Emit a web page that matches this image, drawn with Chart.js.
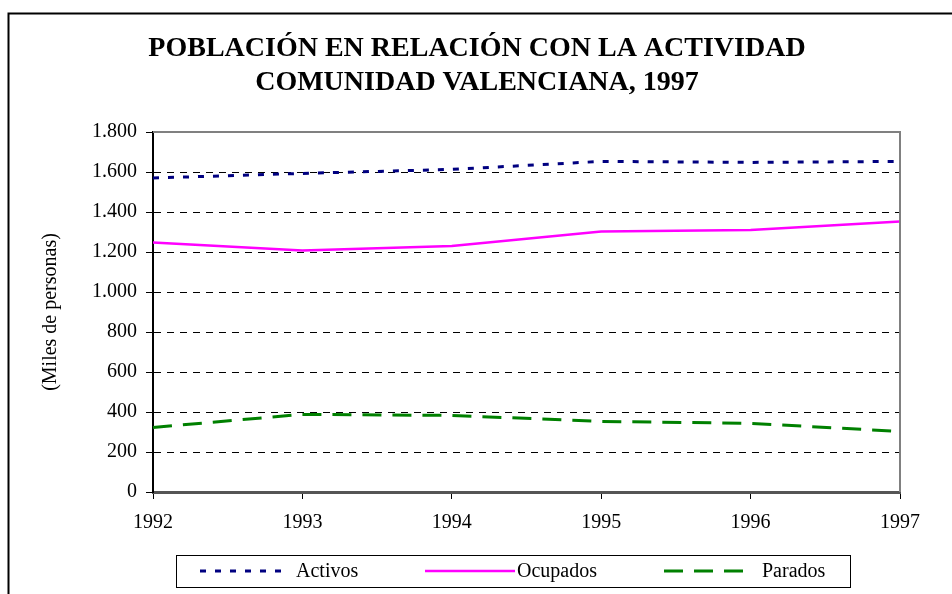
<!DOCTYPE html>
<html>
<head>
<meta charset="utf-8">
<script src="https://cdn.jsdelivr.net/npm/chart.js@4.4.0/dist/chart.umd.min.js"></script>
<style>
  body { margin: 0; background: #fff; }
  #wrap { width: 952px; height: 594px; }
</style>
</head>
<body>
<div id="wrap"><canvas id="lineChart" width="952" height="594"></canvas></div>
<script>
var years = ['1992', '1993', '1994', '1995', '1996', '1997'];
var activos = [1570, 1593, 1613, 1653, 1648, 1653];
var ocupados = [1248, 1207, 1230, 1302, 1310, 1352];
var parados = [323, 388, 383, 353, 343, 303];
var yTicks = [0, 200, 400, 600, 800, 1000, 1200, 1400, 1600, 1800];
var titleLines = ['POBLACIÓN EN RELACIÓN CON LA ACTIVIDAD', 'COMUNIDAD VALENCIANA, 1997'];

var SERIF = "'Liberation Serif', 'Times New Roman', serif";

function miles(v) {
    return String(v).replace(/\B(?=(\d{3})+(?!\d))/g, '.');
}

// outer frame, title, plot border on top/right, and the boxed legend
var framePlugin = {
    id: 'frame',
    beforeDraw: function(chart) {
        var ctx = chart.ctx;
        ctx.save();
        ctx.strokeStyle = '#000';
        ctx.lineWidth = 2;
        ctx.beginPath();
        ctx.moveTo(8.5, 594);
        ctx.lineTo(8.5, 13.5);
        ctx.lineTo(952, 13.5);
        ctx.stroke();

        ctx.fillStyle = '#000';
        ctx.font = 'bold 28px ' + SERIF;
        ctx.textAlign = 'center';
        ctx.textBaseline = 'middle';
        titleLines.forEach(function(t, i) {
            ctx.fillText(t, 477, 49 + i * 34);
        });
        ctx.restore();
    },
    afterDatasetsDraw: function(chart) {
        var ctx = chart.ctx, a = chart.chartArea;
        ctx.save();
        ctx.strokeStyle = '#808080';
        ctx.lineWidth = 2;
        ctx.beginPath();
        ctx.moveTo(a.left, a.top);
        ctx.lineTo(a.right, a.top);
        ctx.lineTo(a.right, a.bottom);
        ctx.stroke();
        ctx.restore();
    },
    afterDraw: function(chart) {
        var ctx = chart.ctx;
        var sampleX = [[200, 290, 296], [425, 515, 517], [664, 745, 762]];
        ctx.save();
        ctx.strokeStyle = '#000';
        ctx.lineWidth = 1;
        ctx.strokeRect(176.5, 555.5, 674, 32);
        ctx.font = '20px ' + SERIF;
        ctx.textBaseline = 'middle';
        ctx.textAlign = 'left';
        chart.data.datasets.forEach(function(ds, i) {
            var s = sampleX[i];
            ctx.strokeStyle = ds.borderColor;
            ctx.lineWidth = ds.borderWidth;
            ctx.setLineDash(ds.borderDash || []);
            ctx.beginPath();
            ctx.moveTo(s[0], 571);
            ctx.lineTo(s[1], 571);
            ctx.stroke();
            ctx.setLineDash([]);
            ctx.fillStyle = '#000';
            ctx.fillText(ds.label, s[2], 572);
        });
        ctx.restore();
    }
};

var CHART = document.getElementById('lineChart');
var lineChart = new Chart(CHART, {
    type: 'line',
    data: {
        labels: years,
        datasets: [
        {
            label: 'Activos',
            data: activos,
            borderColor: '#000080',
            borderWidth: 3,
            borderDash: [6, 9],
            borderCapStyle: 'butt',
            fill: false,
            pointRadius: 0,
            lineTension: 0
        },
        {
            label: 'Ocupados',
            data: ocupados,
            borderColor: '#ff00ff',
            borderWidth: 2.5,
            fill: false,
            pointRadius: 0,
            lineTension: 0
        },
        {
            label: 'Parados',
            data: parados,
            borderColor: '#008000',
            borderWidth: 3,
            borderDash: [19, 11],
            borderCapStyle: 'butt',
            fill: false,
            pointRadius: 0,
            lineTension: 0
        }
        ]
    },
    options: {
        responsive: false,
        animation: false,
        layout: { padding: { left: 0, right: 52, top: 132, bottom: 52 } },
        plugins: {
            legend: { display: false },
            tooltip: { enabled: false },
            title: { display: false }
        },
        scales: {
            x: {
                type: 'category',
                offset: false,
                afterFit: function(s) { s.height = 50; },
                grid: {
                    drawOnChartArea: false,
                    drawTicks: true,
                    tickLength: 7,
                    tickColor: '#000',
                    tickWidth: 1
                },
                border: { display: true, color: '#555', width: 3 },
                ticks: {
                    color: '#000',
                    padding: 12,
                    maxRotation: 0,
                    font: { family: SERIF, size: 20 }
                }
            },
            y: {
                min: 0,
                max: 1800,
                afterFit: function(s) { s.width = 153; },
                afterBuildTicks: function(s) {
                    s.ticks = yTicks.map(function(v) { return { value: v }; });
                },
                grid: {
                    color: '#000',
                    lineWidth: 1,
                    drawTicks: true,
                    tickLength: 7,
                    tickColor: '#000',
                    tickBorderDash: [1, 0]
                },
                border: { display: true, color: '#000', width: 2, dash: [7, 6] },
                ticks: {
                    color: '#000',
                    padding: 9,
                    font: { family: SERIF, size: 20 },
                    callback: function(v) { return miles(v); }
                },
                title: {
                    display: true,
                    text: '(Miles de personas)',
                    color: '#000',
                    font: { family: SERIF, size: 20 },
                    padding: { top: 39, bottom: 0 }
                }
            }
        }
    },
    plugins: [framePlugin]
});
</script>
</body>
</html>
